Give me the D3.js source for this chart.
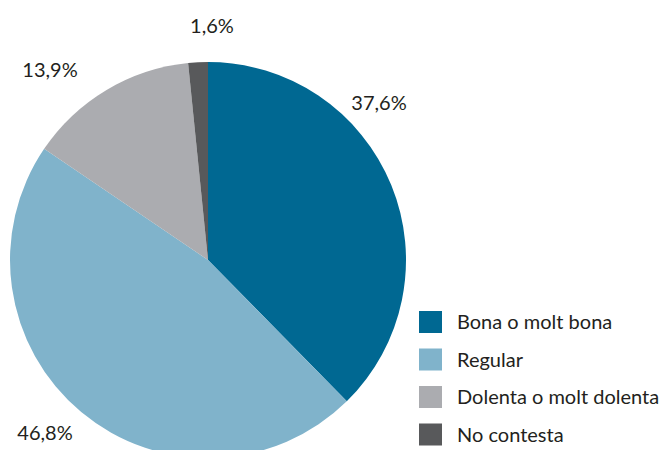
<!DOCTYPE html>
<html>
<head>
<meta charset="utf-8">
<script src="https://cdn.jsdelivr.net/npm/d3@7"></script>
<style>
  body { margin: 0; background: #fff; }
  text { font-family: Lato, "Open Sans", sans-serif; fill: #231f20; }
</style>
</head>
<body>
<svg id="pie" width="664" height="450"></svg>
<script>
const categories = ["Bona o molt bona", "Regular", "Dolenta o molt dolenta", "No contesta"];
const values = [37.6, 46.8, 13.9, 1.6];
const colors = ["#006892", "#80b3cb", "#abacb0", "#58595b"];

// label anchor points (layout only)
const labelPos = [[379, 110], [45, 440], [50, 77], [212, 33]];

const svg = d3.select("#pie");
const cx = 208, cy = 260, r = 198;

const pie = d3.pie().sort(null).value(d => d.value);
const arc = d3.arc().innerRadius(0).outerRadius(r);

const data = categories.map((c, i) => ({ name: c, value: values[i] }));

const g = svg.append("g").attr("transform", `translate(${cx},${cy})`);
g.selectAll("path")
  .data(pie(data))
  .join("path")
  .attr("d", arc)
  .attr("fill", (d, i) => colors[i]);

const fmt = v => d3.format(".1f")(v).replace(".", ",") + "%";
svg.selectAll("text.lbl")
  .data(data)
  .join("text")
  .attr("class", "lbl")
  .attr("x", (d, i) => labelPos[i][0])
  .attr("y", (d, i) => labelPos[i][1])
  .attr("text-anchor", "middle")
  .attr("font-size", 20)
  .text(d => fmt(d.value));

const lg = svg.append("g").attr("transform", "translate(419,311)");
const rows = lg.selectAll("g")
  .data(categories)
  .join("g")
  .attr("transform", (d, i) => `translate(0,${i * 37.5})`);
rows.append("rect")
  .attr("width", 23).attr("height", 22)
  .attr("fill", (d, i) => colors[i]);
rows.append("text")
  .attr("x", 38).attr("y", 18)
  .attr("font-size", 20)
  .text(d => d);
</script>
</body>
</html>
